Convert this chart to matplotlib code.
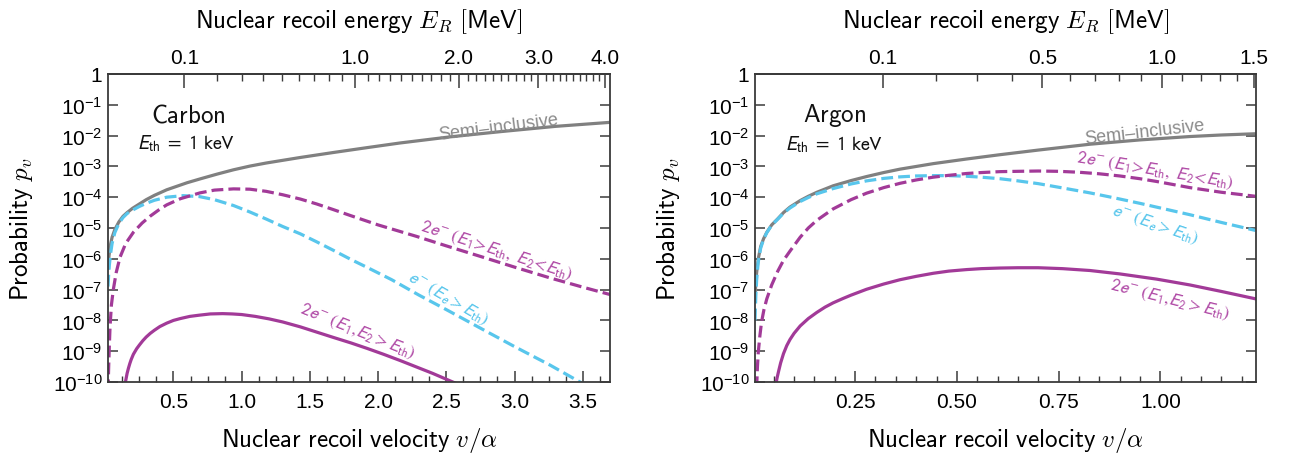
import numpy as np
import matplotlib
matplotlib.use("Agg")
import matplotlib.pyplot as plt
from matplotlib.ticker import FixedLocator, FuncFormatter, MultipleLocator, LogLocator, NullLocator

plt.rcParams['font.family'] = ['Liberation Sans', 'DejaVu Sans']
plt.rcParams['mathtext.fontset'] = 'custom'
plt.rcParams['mathtext.rm'] = 'Liberation Sans'
plt.rcParams['mathtext.it'] = 'Liberation Sans:italic'
plt.rcParams['mathtext.bf'] = 'Liberation Sans:bold'

GREY = '#808080'
CYAN = '#58c6ec'
PURPLE = '#a23a98'
FRAME = '#3a3a3a'

# ---- carbon (values are log10 of probability) ----
c_semi_v = [0.02, 0.025, 0.03, 0.04, 0.05, 0.07, 0.10, 0.13, 0.16, 0.20, 0.25, 0.30, 0.36,
            0.45, 0.6, 0.7, 0.82, 0.94, 1.06, 1.18, 1.43, 1.67, 1.92, 2.16, 2.53, 2.9, 3.3, 3.7]
c_semi_lp = [-6.3, -6.0, -5.8, -5.5, -5.3, -5.05, -4.8, -4.62, -4.5, -4.36, -4.22, -4.08, -3.94,
             -3.76, -3.53, -3.4, -3.25, -3.11, -2.99, -2.89, -2.71, -2.55, -2.39, -2.24, -2.04,
             -1.87, -1.70, -1.57]

c_e1_v = [0.02, 0.025, 0.03, 0.04, 0.05, 0.07, 0.10, 0.13, 0.16, 0.20, 0.25, 0.30, 0.36, 0.45,
          0.57, 0.69, 0.80, 0.94, 1.06, 1.18, 1.3, 1.43, 1.55, 1.67, 1.8, 1.92, 2.1, 2.3, 2.5,
          2.77, 3.0, 3.26, 3.48, 3.6]
c_e1_lp = [-6.9, -6.5, -6.2, -5.8, -5.5, -5.15, -4.85, -4.66, -4.53, -4.42, -4.3, -4.2, -4.1, -4.0,
           -3.95, -3.98, -4.08, -4.27, -4.48, -4.71, -4.95, -5.19, -5.45, -5.72, -6.02, -6.28, -6.68,
           -7.18, -7.65, -8.3, -8.85, -9.45, -10.0, -10.3]

c_2e1_v = [0.02, 0.025, 0.03, 0.035, 0.045, 0.059, 0.08, 0.108, 0.15, 0.206, 0.27, 0.328, 0.39,
           0.45, 0.55, 0.694, 0.8, 0.94, 1.06, 1.18, 1.3, 1.43, 1.55, 1.67, 1.8, 2.0, 2.28, 2.5,
           2.77, 3.0, 3.26, 3.5, 3.7]
c_2e1_lp = [-10.3, -9.5, -8.8, -8.2, -7.5, -7.0, -6.45, -5.95, -5.5, -5.14, -4.84, -4.62, -4.42,
            -4.25, -4.05, -3.86, -3.77, -3.73, -3.74, -3.81, -3.92, -4.06, -4.22, -4.4, -4.6, -4.9,
            -5.27, -5.58, -5.95, -6.27, -6.62, -6.92, -7.16]

c_2e2_v = [0.145, 0.15, 0.16, 0.17, 0.18, 0.19, 0.206, 0.23, 0.25, 0.275, 0.3, 0.33, 0.36, 0.4,
           0.45, 0.5, 0.55, 0.62, 0.69, 0.77, 0.86, 0.93, 1.0, 1.1, 1.2, 1.3, 1.43, 1.55, 1.67,
           1.8, 1.92, 2.04, 2.16, 2.28, 2.4, 2.6]
c_2e2_lp = [-10.1, -9.95, -9.72, -9.55, -9.4, -9.27, -9.1, -8.92, -8.8, -8.66, -8.54, -8.42,
            -8.32, -8.2, -8.09, -8.0, -7.94, -7.87, -7.83, -7.79, -7.78, -7.79, -7.81, -7.87,
            -7.95, -8.05, -8.21, -8.38, -8.55, -8.73, -8.91, -9.1, -9.3, -9.51, -9.72, -10.1]

# ---- argon ----
a_semi_v = [0.004, 0.006, 0.008, 0.012, 0.018, 0.025, 0.033, 0.045, 0.06, 0.074, 0.09, 0.115,
            0.135, 0.156, 0.196, 0.24, 0.278, 0.32, 0.36, 0.442, 0.524, 0.606, 0.7, 0.827, 0.95,
            1.073, 1.15, 1.234]
a_semi_lp = [-7.3, -6.8, -6.45, -6.0, -5.6, -5.35, -5.14, -4.9, -4.7, -4.5, -4.32, -4.11,
             -3.97, -3.84, -3.63, -3.46, -3.33, -3.2, -3.09, -2.91, -2.76, -2.62, -2.47, -2.28,
             -2.14, -2.03, -1.98, -1.94]

a_e1_v = [0.004, 0.006, 0.008, 0.012, 0.018, 0.025, 0.033, 0.045, 0.06, 0.074, 0.09, 0.115, 0.135,
          0.156, 0.196, 0.24, 0.278, 0.32, 0.36, 0.40, 0.442, 0.48, 0.524, 0.56, 0.606, 0.65,
          0.7, 0.76, 0.827, 0.89, 0.95, 1.01, 1.073, 1.15, 1.234]
a_e1_lp = [-8.0, -7.2, -6.7, -6.1, -5.65, -5.37, -5.15, -4.91, -4.71, -4.52, -4.35, -4.14, -4.01,
           -3.89, -3.72, -3.57, -3.47, -3.39, -3.34, -3.31, -3.3, -3.3, -3.32, -3.35, -3.4, -3.47,
           -3.56, -3.7, -3.86, -4.03, -4.2, -4.38, -4.57, -4.82, -5.08]

a_2e1_v = [0.008, 0.01, 0.012, 0.016, 0.02, 0.026, 0.033, 0.045, 0.06, 0.074, 0.09, 0.115, 0.135,
           0.156, 0.196, 0.24, 0.278, 0.32, 0.36, 0.40, 0.442, 0.48, 0.524, 0.56, 0.606, 0.65,
           0.7, 0.75, 0.8, 0.85, 0.9, 0.95, 0.991, 1.073, 1.15, 1.234]
a_2e1_lp = [-10.2, -9.5, -9.04, -8.5, -8.06, -7.65, -7.3, -6.85, -6.4, -6.05, -5.75, -5.3, -5.0,
            -4.75, -4.38, -4.08, -3.87, -3.69, -3.55, -3.44, -3.35, -3.29, -3.23, -3.2, -3.17, -3.16,
            -3.15, -3.16, -3.19, -3.24, -3.31, -3.4, -3.49, -3.69, -3.84, -3.97]

a_2e2_v = [0.055, 0.058, 0.062, 0.067, 0.074, 0.082, 0.09, 0.1, 0.115, 0.135, 0.156, 0.176,
           0.196, 0.22, 0.24, 0.278, 0.32, 0.36, 0.4, 0.442, 0.48, 0.524, 0.56, 0.606, 0.65,
           0.7, 0.76, 0.827, 0.9, 0.991, 1.073, 1.15, 1.234]
a_2e2_lp = [-10.1, -9.88, -9.65, -9.38, -9.08, -8.82, -8.62, -8.42, -8.18, -7.94, -7.74, -7.57,
            -7.43, -7.29, -7.18, -6.99, -6.82, -6.68, -6.57, -6.47, -6.4, -6.35, -6.32, -6.3,
            -6.29, -6.29, -6.32, -6.38, -6.49, -6.66, -6.85, -7.06, -7.3]

# ticks
c_bottom_major = [0.5, 1.0, 1.5, 2.0, 2.5, 3.0, 3.5]
c_bottom_labels = ['0.5', '1.0', '1.5', '2.0', '2.5', '3.0', '3.5']
c_top_major = [0.1, 1.0, 2.0, 3.0, 4.0]
c_top_labels = ['0.1', '1.0', '2.0', '3.0', '4.0']
a_bottom_major = [0.25, 0.50, 0.75, 1.00]
a_bottom_labels = ['0.25', '0.50', '0.75', '1.00']
a_top_major = [0.1, 0.5, 1.0, 1.5]
a_top_labels = ['0.1', '0.5', '1.0', '1.5']

# E_R [MeV] = k * (v/alpha)^2
K_CARBON = 0.2976
K_ARGON = 0.991

LBL_2E1 = r'$2e^{-}\ (E_1\!>\!E_{\rm th},\ E_2\!<\!E_{\rm th})$'
LBL_E1 = r'$e^{-}\ (E_e > E_{\rm th})$'
LBL_2E2 = r'$2e^{-}\ (E_1,\!E_2 > E_{\rm th})$'


def ytick_fmt(y, pos):
    e = int(round(np.log10(y)))
    if e == 0:
        return '1'
    return r'$10^{%d}$' % e


def panel(ax, curves, xlim, k, bmajor, blabels, bminor, tmajor, tlabels, tminor, name, notes):
    for v, lp, col, ls in curves:
        ax.plot(v, 10.0 ** np.array(lp), color=col, ls=ls, lw=2.3)

    ax.set_yscale('log')
    ax.set_ylim(1e-10, 1)
    ax.set_xlim(*xlim)
    ax.yaxis.set_major_locator(LogLocator(base=10, numticks=20))
    ax.yaxis.set_minor_locator(NullLocator())
    ax.yaxis.set_major_formatter(FuncFormatter(ytick_fmt))
    ax.xaxis.set_major_locator(FixedLocator(bmajor))
    ax.xaxis.set_minor_locator(MultipleLocator(bminor))
    ax.set_xticklabels(blabels)
    ax.tick_params(axis='both', which='both', direction='in', color=FRAME, labelsize=15)
    ax.tick_params(axis='y', which='major', length=7, width=1.1, right=True, pad=4)
    ax.tick_params(axis='x', which='major', length=8, width=1.1, top=False, pad=7)
    ax.tick_params(axis='x', which='minor', length=4, width=1.0, top=False)
    for s in ax.spines.values():
        s.set_color(FRAME)
        s.set_linewidth(1.3)

    sec = ax.secondary_xaxis('top', functions=(lambda v: k * v ** 2,
                                               lambda e: np.sqrt(np.clip(e, 0, None) / k)))
    sec.xaxis.set_major_locator(FixedLocator(tmajor))
    sec.xaxis.set_minor_locator(FixedLocator(tminor))
    sec.set_xticklabels(tlabels)
    sec.tick_params(axis='x', which='major', direction='in', length=10, width=1.1,
                    color=FRAME, labelsize=15, pad=5)
    sec.tick_params(axis='x', which='minor', direction='in', length=5, width=1.0, color=FRAME)
    sec.spines['top'].set_color(FRAME)
    sec.spines['top'].set_linewidth(1.3)
    sec.set_xlabel(r'$\mathsf{Nuclear\ recoil\ energy}\ E_R\ \mathsf{[MeV]}$',
                   math_fontfamily='cm', fontsize=18, labelpad=15)

    ax.set_xlabel(r'$\mathsf{Nuclear\ recoil\ velocity}\ v/\alpha$',
                  math_fontfamily='cm', fontsize=18, labelpad=10)
    ax.set_ylabel(r'$\mathsf{Probability}\ p_v$', math_fontfamily='cm', fontsize=18, labelpad=13)

    (nx, ny), (ex, ey) = name
    ax.text(nx, ny, r'$\mathsf{%s}$' % ('Carbon' if k < 0.5 else 'Argon'),
            math_fontfamily='cm', fontsize=18, ha='center', va='center', color='#111111')
    ax.text(ex, ey, r'$E_{\rm th}\ =\ 1\ {\rm keV}$', math_fontfamily='stixsans',
            fontsize=14, ha='left', va='center', color='#111111')

    for x, lp, s, rot, col in notes:
        ax.text(x, 10.0 ** lp, s, rotation=rot, rotation_mode='anchor', ha='center',
                va='center', color=col, fontsize=13, math_fontfamily='stixsans')


fig = plt.figure(figsize=(12.89, 4.60), dpi=100)
ax1 = fig.add_axes([108 / 1289, 1 - 383 / 460, 502 / 1289, 308 / 460])
ax2 = fig.add_axes([755 / 1289, 1 - 383 / 460, 501 / 1289, 308 / 460])

panel(ax1,
      [(c_semi_v, c_semi_lp, GREY, '-'), (c_e1_v, c_e1_lp, CYAN, '--'),
       (c_2e1_v, c_2e1_lp, PURPLE, '--'), (c_2e2_v, c_2e2_lp, PURPLE, '-')],
      (0.02, 3.7), K_CARBON, c_bottom_major, c_bottom_labels, 0.125,
      c_top_major, c_top_labels, [x / 10 for x in range(2, 40) if x % 10 != 0],
      ((0.61, 10 ** -1.3), (0.23, 10 ** -2.22)),
      [(2.88, -1.72, 'Semi\u2013inclusive', 7.3, '#8a8a8a'),
       (2.87, -5.7, LBL_2E1, -18, '#b04aa6'),
       (2.51, -7.28, LBL_E1, -30, CYAN),
       (1.85, -8.33, LBL_2E2, -22, '#b04aa6')])

panel(ax2,
      [(a_semi_v, a_semi_lp, GREY, '-'), (a_e1_v, a_e1_lp, CYAN, '--'),
       (a_2e1_v, a_2e1_lp, PURPLE, '--'), (a_2e2_v, a_2e2_lp, PURPLE, '-')],
      (0.004, 1.235), K_ARGON, a_bottom_major, a_bottom_labels, 0.05,
      a_top_major, a_top_labels, [x / 10 for x in range(2, 15) if x not in (5, 10)],
      ((0.2, 10 ** -1.3), (0.078, 10 ** -2.27)),
      [(0.962, -1.88, 'Semi\u2013inclusive', 6.5, '#8a8a8a'),
       (0.987, -3.1, LBL_2E1, -9.3, '#b04aa6'),
       (0.987, -4.86, LBL_E1, -18.8, CYAN),
       (1.024, -7.31, LBL_2E2, -14, '#b04aa6')])

fig.savefig('out.png', dpi=100)
